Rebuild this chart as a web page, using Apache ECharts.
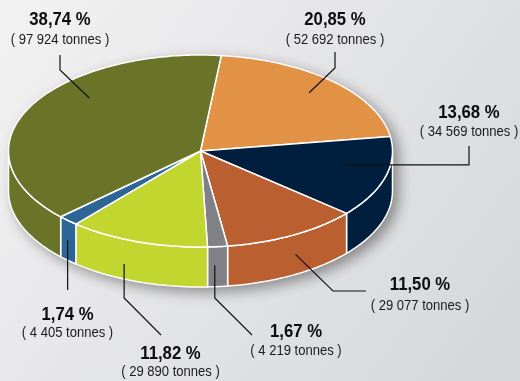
<!DOCTYPE html>
<html>
<head>
<meta charset="utf-8">
<script src="https://cdn.jsdelivr.net/npm/echarts@6/dist/echarts.min.js"></script>
<style>
  html, body { margin: 0; padding: 0; }
  #chart { width: 520px; height: 381px; }
</style>
</head>
<body>
<div id="chart"></div>
<script>
// Tonnage per segment, listed clockwise starting at the top of the disc
const segments = ['Segment 1', 'Segment 2', 'Segment 3', 'Segment 4', 'Segment 5', 'Segment 6', 'Segment 7'];
const tonnes = [52692, 34569, 29077, 4219, 29890, 4405, 97924];
const colors = ['#e29244', '#001f3f', '#b95f30', '#7f8184', '#c1d730', '#2d6597', '#6a7429'];

// Disc geometry in pixels: centre, radii of the tilted ellipse, wall height, first edge angle (deg, clockwise from top)
const CX = 200.5, CY = 151, RX = 192, RY = 96, DEPTH = 40, START = 6.2;

// Leader-line and label placement for each segment.
// t: position inside the segment's angular span, f: radius fraction (top face) or d: wall height fraction
// path: bends of the leader line (null = keep the anchor's coordinate), text: label centre x, first and second line y
const labelLayout = [
  { t: 0.49, f: 0.83, path: [[335, 68], [335, 52]], text: [335, 20, 40] },
  { t: 0.40, f: 0.764, path: [[469, null], [469, 146]], text: [469, 112.5, 132] },
  { t: 0.48, d: 0.5, path: [[333, 291], [366, 291]], text: [420, 285, 305.5] },
  { t: 0.64, d: 0.46, path: [[null, 298], [252, 335]], text: [296, 331.5, 351] },
  { t: 0.60, d: 0.62, path: [[null, 298], [161, 335]], text: [170.5, 354, 372] },
  { t: 0.53, d: 0.5, path: [[null, 290]], text: [67.5, 314.5, 333] },
  { t: 0.623, f: 0.8, path: [[60, 70], [60, 55]], text: [60, 20, 40] }
];

const FONT = '"Liberation Sans", Arial, Helvetica, sans-serif';

const total = tonnes.reduce((a, b) => a + b, 0);
const spans = [];
let acc = START;
tonnes.forEach(v => {
  const a0 = acc;
  acc += v / total * 360;
  spans.push([a0, acc]);
});

function pt(deg, f, drop) {
  const r = deg * Math.PI / 180;
  return [CX + RX * f * Math.sin(r), CY - RY * f * Math.cos(r) + (drop || 0)];
}
function arc(a0, a1, drop) {
  const n = Math.max(2, Math.ceil(Math.abs(a1 - a0)));
  const pts = [];
  for (let i = 0; i <= n; i++) pts.push(pt(a0 + (a1 - a0) * i / n, 1, drop));
  return pts;
}
function pctText(v) {
  return (v / total * 100).toFixed(2).replace('.', ',') + ' %';
}
function tonText(v) {
  return '( ' + String(v).replace(/\B(?=(\d{3})+(?!\d))/g, ' ') + ' tonnes )';
}

const edgeStyle = { stroke: '#ffffff', lineWidth: 1.5, lineJoin: 'round' };

const chart = echarts.init(document.getElementById('chart'), null, { renderer: 'canvas' });

chart.setOption({
  animation: false,
  backgroundColor: {
    type: 'linear', x: 0, y: 0, x2: 1, y2: 1,
    colorStops: [
      { offset: 0, color: '#f2f2f3' },
      { offset: 1, color: '#d5d6d8' }
    ]
  },
  series: [
    {
      // soft drop shadow under the whole disc
      type: 'custom',
      coordinateSystem: 'none',
      z: 1,
      silent: true,
      data: [total],
      renderItem: function () {
        const pts = arc(-90, 90, 0).concat(arc(90, 270, DEPTH));
        return {
          type: 'polygon',
          shape: { points: pts },
          style: {
            fill: '#888888',
            shadowBlur: 14,
            shadowColor: 'rgba(0,0,0,0.4)',
            shadowOffsetX: 6,
            shadowOffsetY: 5
          }
        };
      }
    },
    {
      // front walls
      type: 'custom',
      coordinateSystem: 'none',
      z: 2,
      silent: true,
      data: tonnes,
      renderItem: function (params) {
        const i = params.dataIndex;
        const a0 = Math.max(spans[i][0], 90), a1 = Math.min(spans[i][1], 270);
        if (a1 <= a0) return { type: 'group', children: [] };
        const pts = arc(a0, a1, 0).concat(arc(a1, a0, DEPTH));
        return {
          type: 'polygon',
          shape: { points: pts },
          style: Object.assign({ fill: colors[i] }, edgeStyle)
        };
      }
    },
    {
      // top faces
      type: 'custom',
      coordinateSystem: 'none',
      z: 3,
      silent: true,
      data: tonnes,
      renderItem: function (params) {
        const i = params.dataIndex;
        const pts = [[CX, CY]].concat(arc(spans[i][0], spans[i][1], 0));
        return {
          type: 'polygon',
          shape: { points: pts },
          style: Object.assign({ fill: colors[i] }, edgeStyle)
        };
      }
    },
    {
      // leader lines and value labels
      type: 'custom',
      coordinateSystem: 'none',
      z: 4,
      silent: true,
      data: tonnes,
      renderItem: function (params, api) {
        const i = params.dataIndex;
        const v = api.value(0);
        const L = labelLayout[i];
        const ang = spans[i][0] + (spans[i][1] - spans[i][0]) * L.t;
        const anchor = L.f != null ? pt(ang, L.f, 0) : pt(ang, 1, DEPTH * L.d);
        const line = [anchor];
        L.path.forEach(p => line.push([p[0] == null ? anchor[0] : p[0], p[1] == null ? anchor[1] : p[1]]));
        return {
          type: 'group',
          children: [
            {
              type: 'polyline',
              shape: { points: line },
              style: { stroke: '#111111', lineWidth: 1.2, fill: null }
            },
            {
              // condensed bold percentage
              type: 'text',
              x: L.text[0], y: L.text[1],
              scaleX: 0.88,
              style: {
                text: pctText(v), fill: '#0d0d0d',
                fontFamily: FONT, fontSize: 19, fontWeight: 'bold',
                align: 'center', verticalAlign: 'middle'
              }
            },
            {
              type: 'text',
              x: L.text[0], y: L.text[2],
              scaleX: 0.9,
              style: {
                text: tonText(v), fill: '#1a1a1a',
                fontFamily: FONT, fontSize: 14.5,
                align: 'center', verticalAlign: 'middle'
              }
            }
          ]
        };
      }
    }
  ]
});
</script>
</body>
</html>
